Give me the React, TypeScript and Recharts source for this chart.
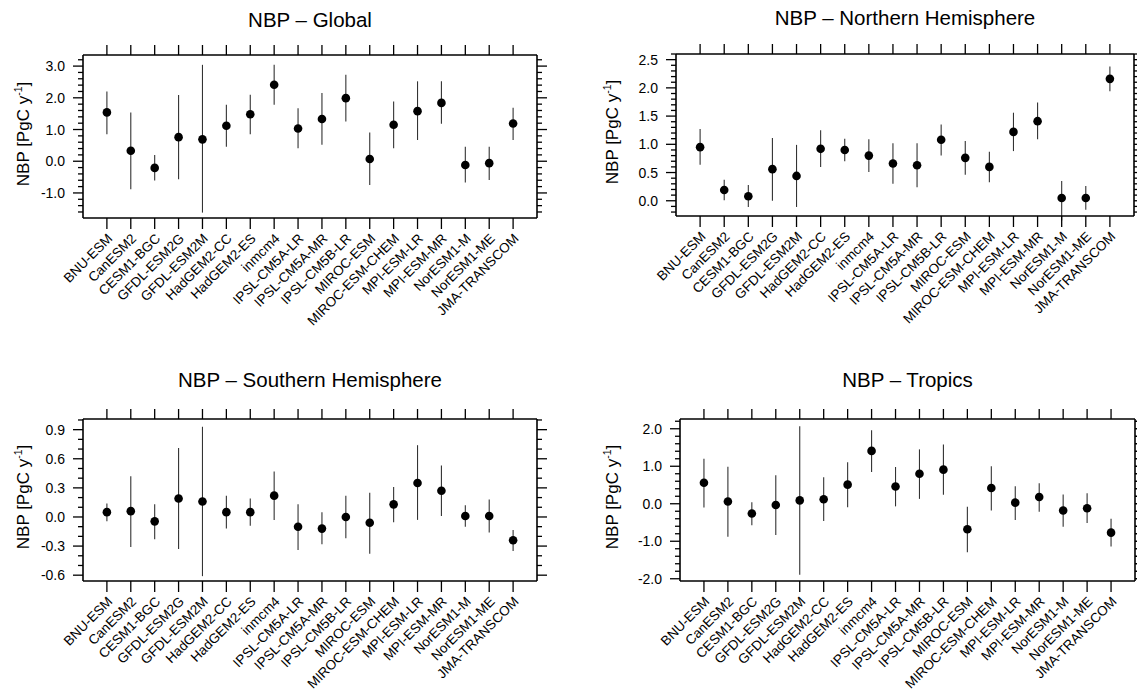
import React from "react";
import { ComposedChart, ErrorBar, Scatter, XAxis, YAxis } from "recharts";

const models = [
  "BNU-ESM", "CanESM2", "CESM1-BGC", "GFDL-ESM2G", "GFDL-ESM2M", "HadGEM2-CC",
  "HadGEM2-ES", "inmcm4", "IPSL-CM5A-LR", "IPSL-CM5A-MR", "IPSL-CM5B-LR", "MIROC-ESM",
  "MIROC-ESM-CHEM", "MPI-ESM-LR", "MPI-ESM-MR", "NorESM1-M", "NorESM1-ME", "JMA-TRANSCOM",
];

// NBP Global
const globalMean = [1.54, 0.33, -0.21, 0.76, 0.69, 1.12, 1.48, 2.41, 1.03, 1.33, 1.99, 0.07, 1.15, 1.58, 1.84, -0.12, -0.06, 1.19];
const globalLow = [0.85, -0.88, -0.61, -0.57, -1.62, 0.46, 0.85, 1.78, 0.41, 0.52, 1.25, -0.75, 0.41, 0.67, 1.18, -0.67, -0.59, 0.67];
const globalHigh = [2.2, 1.54, 0.2, 2.09, 3.04, 1.78, 2.1, 3.04, 1.67, 2.15, 2.73, 0.91, 1.88, 2.52, 2.52, 0.46, 0.46, 1.69];
const globalTicks = [-1, 0, 1, 2, 3];

// NBP Northern Hemisphere
const nhMean = [0.95, 0.19, 0.08, 0.56, 0.44, 0.92, 0.9, 0.8, 0.66, 0.63, 1.08, 0.76, 0.6, 1.22, 1.41, 0.05, 0.05, 2.16];
const nhLow = [0.64, 0.01, -0.11, 0.0, -0.11, 0.6, 0.7, 0.51, 0.3, 0.24, 0.8, 0.46, 0.33, 0.88, 1.09, -0.35, -0.16, 1.94];
const nhHigh = [1.27, 0.37, 0.28, 1.11, 0.99, 1.25, 1.1, 1.09, 1.02, 1.02, 1.35, 1.06, 0.87, 1.56, 1.74, 0.35, 0.26, 2.38];
const nhTicks = [0, 0.5, 1, 1.5, 2, 2.5];

// NBP Southern Hemisphere
const shMean = [0.05, 0.06, -0.045, 0.19, 0.16, 0.05, 0.05, 0.22, -0.1, -0.12, 0.0, -0.06, 0.13, 0.35, 0.27, 0.01, 0.01, -0.24];
const shLow = [-0.045, -0.31, -0.23, -0.33, -0.61, -0.12, -0.09, -0.03, -0.34, -0.28, -0.22, -0.38, -0.055, -0.03, 0.01, -0.1, -0.16, -0.35];
const shHigh = [0.14, 0.42, 0.13, 0.71, 0.93, 0.22, 0.19, 0.47, 0.13, 0.05, 0.22, 0.25, 0.31, 0.74, 0.53, 0.12, 0.18, -0.135];
const shTicks = [-0.6, -0.3, 0, 0.3, 0.6, 0.9];

// NBP Tropics
const trMean = [0.56, 0.06, -0.26, -0.035, 0.09, 0.12, 0.51, 1.41, 0.46, 0.8, 0.91, -0.68, 0.42, 0.03, 0.18, -0.18, -0.12, -0.77];
const trLow = [-0.1, -0.88, -0.57, -0.83, -1.89, -0.46, -0.09, 0.85, -0.07, 0.13, 0.24, -1.29, -0.18, -0.43, -0.21, -0.61, -0.51, -1.14];
const trHigh = [1.2, 0.99, 0.04, 0.76, 2.07, 0.71, 1.11, 1.96, 0.98, 1.45, 1.58, -0.08, 1.0, 0.47, 0.55, 0.25, 0.28, -0.4];
const trTicks = [-2, -1, 0, 1, 2];

const FONT = '"Liberation Sans", Arial, Helvetica, sans-serif';
const catTicks = models.map((_, i) => i + 1);

interface PanelCfg {
  title: string;
  mean: number[];
  low: number[];
  high: number[];
  majors: number[];
  minorStep: number;
  domain: [number, number];
  left: number;
  top: number;
  width: number;
  height: number;
  box: { left: number; right: number; top: number; bottom: number };
  labelX: number;
  titleY: number;
}

const panels: PanelCfg[] = [
  {
    title: "NBP – Global", mean: globalMean, low: globalLow, high: globalHigh,
    majors: globalTicks, minorStep: 0.2, domain: [-1.79, 3.35],
    left: 0, top: 0, width: 568, height: 347,
    box: { left: 83, right: 537, top: 55, bottom: 218 }, labelX: 23, titleY: 20,
  },
  {
    title: "NBP – Northern Hemisphere", mean: nhMean, low: nhLow, high: nhHigh,
    majors: nhTicks, minorStep: 0.1, domain: [-0.27, 2.6],
    left: 568, top: 0, width: 569, height: 347,
    box: { left: 108, right: 566, top: 54, bottom: 216 }, labelX: 44, titleY: 18,
  },
  {
    title: "NBP – Southern Hemisphere", mean: shMean, low: shLow, high: shHigh,
    majors: shTicks, minorStep: 0.1, domain: [-0.66, 1.01],
    left: 0, top: 347, width: 568, height: 347,
    box: { left: 83, right: 537, top: 72, bottom: 234 }, labelX: 23, titleY: 33,
  },
  {
    title: "NBP – Tropics", mean: trMean, low: trLow, high: trHigh,
    majors: trTicks, minorStep: 0.2, domain: [-2.06, 2.26],
    left: 568, top: 347, width: 569, height: 347,
    box: { left: 112, right: 567, top: 72, bottom: 234 }, labelX: 44, titleY: 33,
  },
];

function allTicks(domain: [number, number], step: number) {
  const out: number[] = [];
  const start = Math.ceil(domain[0] / step - 1e-6);
  const end = Math.floor(domain[1] / step + 1e-6);
  for (let k = start; k <= end; k++) out.push(Math.round(k * step * 1000) / 1000);
  return out;
}

const isMajor = (v: number, majors: number[]) => majors.some((m) => Math.abs(m - v) < 1e-6);

function YTick(props: any) {
  const { x, y, payload, side, majors } = props;
  const major = isMajor(payload.value, majors);
  const len = major ? 10 : 5;
  const dir = side === "left" ? -1 : 1;
  return (
    <g>
      <line x1={x} x2={x + dir * len} y1={y} y2={y} stroke="#000" strokeWidth={1.3} />
      {major && side === "left" && (
        <text x={x - 18} y={y} dy="0.36em" textAnchor="end" fontSize={14} fontFamily={FONT} fill="#000">
          {Number(payload.value).toFixed(1)}
        </text>
      )}
    </g>
  );
}

function BottomTick(props: any) {
  const { x, y, payload } = props;
  const name = models[payload.value - 1] ?? "";
  return (
    <g>
      <line x1={x} x2={x} y1={y} y2={y + 11} stroke="#000" strokeWidth={1.3} />
      <text
        transform={`translate(${x + 3},${y + 18}) rotate(-45)`}
        textAnchor="end"
        dy="0.35em"
        fontSize={13.5}
        fontFamily={FONT}
        fill="#000"
      >
        {name}
      </text>
    </g>
  );
}

function TopTick(props: any) {
  const { x, y } = props;
  return <line x1={x} x2={x} y1={y} y2={y - 10} stroke="#000" strokeWidth={1.3} />;
}

const frame = { stroke: "#000", strokeWidth: 1.6 };

function Panel({ cfg }: { cfg: PanelCfg }) {
  const { box, width, height } = cfg;
  const data = models.map((m, i) => ({
    name: m,
    x: i + 1,
    y: cfg.mean[i],
    err: [cfg.mean[i] - cfg.low[i], cfg.high[i] - cfg.mean[i]],
  }));
  const yTicks = allTicks(cfg.domain, cfg.minorStep);
  const midX = (box.left + box.right) / 2;
  const midY = (box.top + box.bottom) / 2;

  return (
    <div style={{ position: "absolute", left: cfg.left, top: cfg.top, width, height, fontFamily: FONT }}>
      <div
        style={{
          position: "absolute",
          left: midX,
          top: cfg.titleY,
          transform: "translate(-50%, -50%)",
          fontSize: 20.5,
          whiteSpace: "nowrap",
          color: "#000",
        }}
      >
        {cfg.title}
      </div>
      <div
        style={{
          position: "absolute",
          left: cfg.labelX,
          top: midY - 3,
          transform: "translate(-50%, -50%) rotate(-90deg)",
          fontSize: 17,
          whiteSpace: "nowrap",
          color: "#000",
        }}
      >
        NBP [PgC y<sup style={{ fontSize: 10.5 }}>-1</sup>]
      </div>
      <ComposedChart width={width} height={height} margin={{ top: 0, right: 0, bottom: 0, left: 0 }}>
        <XAxis
          xAxisId="b"
          type="number"
          dataKey="x"
          orientation="bottom"
          domain={[0, 19]}
          ticks={catTicks}
          interval={0}
          allowDataOverflow
          height={height - box.bottom}
          tickSize={0}
          tickMargin={0}
          tickLine={false}
          axisLine={frame}
          tick={(p: any) => <BottomTick {...p} />}
        />
        <XAxis
          xAxisId="t"
          type="number"
          dataKey="x"
          orientation="top"
          domain={[0, 19]}
          ticks={catTicks}
          interval={0}
          allowDataOverflow
          height={box.top}
          tickSize={0}
          tickMargin={0}
          tickLine={false}
          axisLine={frame}
          tick={(p: any) => <TopTick {...p} />}
        />
        <YAxis
          yAxisId="l"
          type="number"
          dataKey="y"
          domain={cfg.domain}
          ticks={yTicks}
          interval={0}
          allowDataOverflow
          width={box.left}
          tickSize={0}
          tickMargin={0}
          tickLine={false}
          axisLine={frame}
          tick={(p: any) => <YTick {...p} side="left" majors={cfg.majors} />}
        />
        <YAxis
          yAxisId="r"
          type="number"
          dataKey="y"
          orientation="right"
          domain={cfg.domain}
          ticks={yTicks}
          interval={0}
          allowDataOverflow
          width={width - box.right}
          tickSize={0}
          tickMargin={0}
          tickLine={false}
          axisLine={frame}
          tick={(p: any) => <YTick {...p} side="right" majors={cfg.majors} />}
        />
        <Scatter
          data={data}
          xAxisId="b"
          yAxisId="l"
          dataKey="y"
          isAnimationActive={false}
          shape={(p: any) => <circle cx={p.cx} cy={p.cy} r={4.3} fill="#000" />}
        >
          <ErrorBar dataKey="err" direction="y" width={0} stroke="#333" strokeWidth={1.1} isAnimationActive={false} />
        </Scatter>
      </ComposedChart>
    </div>
  );
}

export default function App() {
  return (
    <div style={{ position: "absolute", left: 0, top: 0, width: 1137, height: 694, background: "#fff" }}>
      {panels.map((cfg) => (
        <Panel key={cfg.title} cfg={cfg} />
      ))}
    </div>
  );
}
